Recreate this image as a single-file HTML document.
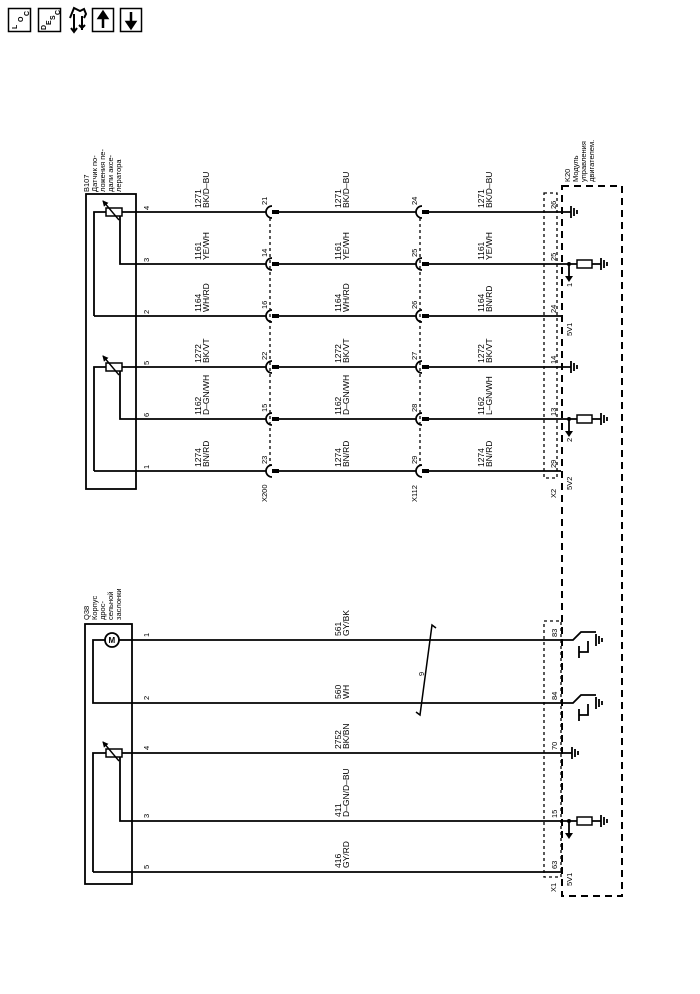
<!DOCTYPE html>
<html><head><meta charset="utf-8"><style>
html,body{margin:0;padding:0;background:#fff;}
svg{display:block;}
text{font-family:"Liberation Sans","DejaVu Sans",sans-serif;fill:#000;}
</style></head><body>
<svg width="700" height="994" viewBox="0 0 700 994" xmlns="http://www.w3.org/2000/svg">
<defs>
<marker id="ah" markerWidth="6" markerHeight="6" refX="5" refY="3" orient="auto" markerUnits="userSpaceOnUse"><path d="M0,0 L6,3 L0,6 z" fill="#000"/></marker>
</defs>
<!-- top icons -->
<g fill="none" stroke="#000" stroke-width="1.5">
<rect x="8.5" y="8.5" width="22" height="23"/>
<rect x="38.5" y="8.5" width="22" height="23"/>
<rect x="92.5" y="8.5" width="21" height="23"/>
<rect x="120.5" y="8.5" width="21" height="23"/>
</g>
<g font-size="7" font-weight="bold">
<text transform="translate(17,29) rotate(-90)">L</text>
<text transform="translate(23,22) rotate(-90)">O</text>
<text transform="translate(29,16) rotate(-90)">C</text>
<text transform="translate(46,30) rotate(-90)">D</text>
<text transform="translate(51,25) rotate(-90)">E</text>
<text transform="translate(55,20) rotate(-90)">S</text>
<text transform="translate(60,15) rotate(-90)">C</text>
</g>
<path d="M103,13 L103,28 M99,18 L103,12 L107,18 z" stroke="#000" stroke-width="2.5" fill="#000"/>
<path d="M131,27 L131,12 M127,22 L131,28 L135,22 z" stroke="#000" stroke-width="2.5" fill="#000"/>
<g stroke="#000" stroke-width="2" fill="none">
<path d="M70,18 L74,8 L80,11 L84,9 L86,14 L84,18"/>
<path d="M74,14 L74,31 M71,28 L74,32 L77,28"/>
<path d="M82,16 L82,30 M79,25 L82,28 L85,25"/>
</g>

<!-- ============ UPPER: B107 ============ -->
<g font-size="7.5">
<text transform="translate(89,192) rotate(-90)">B107</text>
<text transform="translate(97,192) rotate(-90)">Датчик по-</text>
<text transform="translate(105,192) rotate(-90)">ложения пе-</text>
<text transform="translate(113,192) rotate(-90)">дали аксе-</text>
<text transform="translate(121,192) rotate(-90)">лератора</text>
</g>
<rect x="86" y="194" width="50" height="295" fill="none" stroke="#000" stroke-width="1.8"/>

<g stroke="#000" stroke-width="1.8" fill="none">
<path d="M94,316 L94,212 L136,212"/>
<path d="M94,316 L136,316"/>
<path d="M120,216 L120,264 L136,264"/>
<path d="M94,471 L94,367 L136,367"/>
<path d="M94,471 L136,471"/>
<path d="M120,371 L120,419 L136,419"/>
</g>
<g stroke="#000" stroke-width="1.5" fill="#fff">
<rect x="106" y="208" width="16" height="8"/>
<rect x="106" y="363" width="16" height="8"/>
</g>
<g stroke="#000" stroke-width="1.4">
<line x1="119" y1="220" x2="103" y2="201" marker-end="url(#ah)"/>
<line x1="119" y1="375" x2="103" y2="356" marker-end="url(#ah)"/>
</g>

<!-- wires upper -->
<g stroke="#000" stroke-width="1.8" fill="none">
<path d="M136,212H266M278,212H416M428,212H571"/>
<path d="M136,264H266M278,264H416M428,264H577"/>
<path d="M136,316H266M278,316H416M428,316H561"/>
<path d="M136,367H266M278,367H416M428,367H571"/>
<path d="M136,419H266M278,419H416M428,419H577"/>
<path d="M136,471H266M278,471H416M428,471H561"/>
</g>
<g stroke="#000" stroke-width="1.7" fill="none">
<path d="M272,206 A6,6 0 0 0 272,218 M422,206 A6,6 0 0 0 422,218"/>
<path d="M272,258 A6,6 0 0 0 272,270 M422,258 A6,6 0 0 0 422,270"/>
<path d="M272,310 A6,6 0 0 0 272,322 M422,310 A6,6 0 0 0 422,322"/>
<path d="M272,361 A6,6 0 0 0 272,373 M422,361 A6,6 0 0 0 422,373"/>
<path d="M272,413 A6,6 0 0 0 272,425 M422,413 A6,6 0 0 0 422,425"/>
<path d="M272,465 A6,6 0 0 0 272,477 M422,465 A6,6 0 0 0 422,477"/>
</g>
<g fill="#000">
<rect x="272" y="210" width="7" height="4"/><rect x="422" y="210" width="7" height="4"/>
<rect x="272" y="262" width="7" height="4"/><rect x="422" y="262" width="7" height="4"/>
<rect x="272" y="314" width="7" height="4"/><rect x="422" y="314" width="7" height="4"/>
<rect x="272" y="365" width="7" height="4"/><rect x="422" y="365" width="7" height="4"/>
<rect x="272" y="417" width="7" height="4"/><rect x="422" y="417" width="7" height="4"/>
<rect x="272" y="469" width="7" height="4"/><rect x="422" y="469" width="7" height="4"/>
</g>
<g stroke="#000" stroke-width="1.3" stroke-dasharray="3,3">
<line x1="270" y1="218" x2="270" y2="465"/>
<line x1="420" y1="218" x2="420" y2="465"/>
</g>

<g font-size="7.5">
<text transform="translate(149,210) rotate(-90)">4</text>
<text transform="translate(149,262) rotate(-90)">3</text>
<text transform="translate(149,314) rotate(-90)">2</text>
<text transform="translate(149,365) rotate(-90)">5</text>
<text transform="translate(149,417) rotate(-90)">6</text>
<text transform="translate(149,469) rotate(-90)">1</text>
<text transform="translate(267,205) rotate(-90)">21</text>
<text transform="translate(267,257) rotate(-90)">14</text>
<text transform="translate(267,309) rotate(-90)">16</text>
<text transform="translate(267,360) rotate(-90)">22</text>
<text transform="translate(267,412) rotate(-90)">15</text>
<text transform="translate(267,464) rotate(-90)">23</text>
<text transform="translate(267,502) rotate(-90)">X200</text>
<text transform="translate(417,205) rotate(-90)">24</text>
<text transform="translate(417,257) rotate(-90)">25</text>
<text transform="translate(417,309) rotate(-90)">26</text>
<text transform="translate(417,360) rotate(-90)">27</text>
<text transform="translate(417,412) rotate(-90)">28</text>
<text transform="translate(417,464) rotate(-90)">29</text>
<text transform="translate(417,502) rotate(-90)">X112</text>
<text transform="translate(556,209) rotate(-90)">26</text>
<text transform="translate(556,261) rotate(-90)">25</text>
<text transform="translate(556,313) rotate(-90)">24</text>
<text transform="translate(556,364) rotate(-90)">14</text>
<text transform="translate(556,416) rotate(-90)">13</text>
<text transform="translate(556,468) rotate(-90)">29</text>
<text transform="translate(556,498) rotate(-90)">X2</text>
<text transform="translate(572,287) rotate(-90)">1</text>
<text transform="translate(572,336) rotate(-90)">5V1</text>
<text transform="translate(572,442) rotate(-90)">2</text>
<text transform="translate(572,490) rotate(-90)">5V2</text>
</g>

<g font-size="8.5">
<text transform="translate(201,208) rotate(-90)">1271</text><text transform="translate(209,208) rotate(-90)">BK/D–BU</text>
<text transform="translate(201,260) rotate(-90)">1161</text><text transform="translate(209,260) rotate(-90)">YE/WH</text>
<text transform="translate(201,312) rotate(-90)">1164</text><text transform="translate(209,312) rotate(-90)">WH/RD</text>
<text transform="translate(201,363) rotate(-90)">1272</text><text transform="translate(209,363) rotate(-90)">BK/VT</text>
<text transform="translate(201,415) rotate(-90)">1162</text><text transform="translate(209,415) rotate(-90)">D–GN/WH</text>
<text transform="translate(201,467) rotate(-90)">1274</text><text transform="translate(209,467) rotate(-90)">BN/RD</text>

<text transform="translate(341,208) rotate(-90)">1271</text><text transform="translate(349,208) rotate(-90)">BK/D–BU</text>
<text transform="translate(341,260) rotate(-90)">1161</text><text transform="translate(349,260) rotate(-90)">YE/WH</text>
<text transform="translate(341,312) rotate(-90)">1164</text><text transform="translate(349,312) rotate(-90)">WH/RD</text>
<text transform="translate(341,363) rotate(-90)">1272</text><text transform="translate(349,363) rotate(-90)">BK/VT</text>
<text transform="translate(341,415) rotate(-90)">1162</text><text transform="translate(349,415) rotate(-90)">D–GN/WH</text>
<text transform="translate(341,467) rotate(-90)">1274</text><text transform="translate(349,467) rotate(-90)">BN/RD</text>

<text transform="translate(484,208) rotate(-90)">1271</text><text transform="translate(492,208) rotate(-90)">BK/D–BU</text>
<text transform="translate(484,260) rotate(-90)">1161</text><text transform="translate(492,260) rotate(-90)">YE/WH</text>
<text transform="translate(484,312) rotate(-90)">1164</text><text transform="translate(492,312) rotate(-90)">BN/RD</text>
<text transform="translate(484,363) rotate(-90)">1272</text><text transform="translate(492,363) rotate(-90)">BK/VT</text>
<text transform="translate(484,415) rotate(-90)">1162</text><text transform="translate(492,415) rotate(-90)">L–GN/WH</text>
<text transform="translate(484,467) rotate(-90)">1274</text><text transform="translate(492,467) rotate(-90)">BN/RD</text>
</g>

<g font-size="7.5">
<text transform="translate(570,182) rotate(-90)">K20</text>
<text transform="translate(578,182) rotate(-90)">Модуль</text>
<text transform="translate(586,182) rotate(-90)">управления</text>
<text transform="translate(594,182) rotate(-90)">двигателем.</text>
</g>
<rect x="562" y="186" width="60" height="710" fill="none" stroke="#000" stroke-width="2" stroke-dasharray="7,5"/>
<rect x="544" y="193" width="13" height="285" fill="none" stroke="#000" stroke-width="1.3" stroke-dasharray="3,3"/>
<rect x="544" y="621" width="17" height="256" fill="none" stroke="#000" stroke-width="1.3" stroke-dasharray="3,3"/>

<g stroke="#000" stroke-width="1.8" fill="none">
<path d="M571,206V218M574,208V216M577,210V214"/>
<path d="M571,361V373M574,363V371M577,365V369"/>
<path d="M592,264H601M601,258V270M604,260V268M607,262V266"/>
<path d="M569,264V277"/>
<path d="M592,419H601M601,413V425M604,415V423M607,417V421"/>
<path d="M569,419V432"/>
<path d="M572,747V759M575,749V757M578,751V755"/>
<path d="M592,821H601M601,815V827M604,817V825M607,819V823"/>
<path d="M569,821V834"/>
</g>
<g stroke="#000" stroke-width="1.5" fill="#fff">
<rect x="577" y="260" width="15" height="8"/>
<rect x="577" y="415" width="15" height="8"/>
<rect x="577" y="817" width="15" height="8"/>
</g>
<g fill="#000">
<circle cx="569" cy="264" r="2"/><path d="M565,276L573,276L569,282z"/>
<circle cx="569" cy="419" r="2"/><path d="M565,431L573,431L569,437z"/>
<circle cx="569" cy="821" r="2"/><path d="M565,833L573,833L569,839z"/>
</g>

<!-- ============ LOWER: Q38 ============ -->
<g font-size="7.5">
<text transform="translate(89,620) rotate(-90)">Q38</text>
<text transform="translate(97,620) rotate(-90)">Корпус</text>
<text transform="translate(105,620) rotate(-90)">дрос-</text>
<text transform="translate(113,620) rotate(-90)">сельной</text>
<text transform="translate(121,620) rotate(-90)">заслонки</text>
</g>
<rect x="85" y="624" width="47" height="260" fill="none" stroke="#000" stroke-width="1.8"/>
<g stroke="#000" stroke-width="1.8" fill="none">
<path d="M105,640H93V703H132"/>
<path d="M119,640H132"/>
<circle cx="112" cy="640" r="7" fill="#fff"/>
<path d="M93,872V753H132"/>
<path d="M93,872H132"/>
<path d="M120,757V821H132"/>
<path d="M132,640H573L581,632H596"/>
<path d="M132,703H573L581,695H596"/>
<path d="M132,753H572"/>
<path d="M132,821H577"/>
<path d="M132,872H561"/>
<path d="M596,634V646M599,636V644M602,638V642"/>
<path d="M596,697V709M599,699V707M602,701V705"/>
<path d="M588,641V652H579M579,646V658"/>
<path d="M588,704V715H579M579,709V721"/>
</g>
<text x="108.5" y="643" font-size="8" font-weight="bold">M</text>
<rect x="106" y="749" width="16" height="8" fill="#fff" stroke="#000" stroke-width="1.5"/>
<line x1="119" y1="761" x2="103" y2="742" stroke="#000" stroke-width="1.4" marker-end="url(#ah)"/>
<path d="M436,628L432,625L420,715L416,712" stroke="#000" stroke-width="1.5" fill="none"/>
<text transform="translate(424,676) rotate(-90)" font-size="7.5">9</text>

<g font-size="7.5">
<text transform="translate(149,637) rotate(-90)">1</text>
<text transform="translate(149,700) rotate(-90)">2</text>
<text transform="translate(149,750) rotate(-90)">4</text>
<text transform="translate(149,818) rotate(-90)">3</text>
<text transform="translate(149,869) rotate(-90)">5</text>
<text transform="translate(557,637) rotate(-90)">83</text>
<text transform="translate(557,700) rotate(-90)">84</text>
<text transform="translate(557,750) rotate(-90)">70</text>
<text transform="translate(557,818) rotate(-90)">15</text>
<text transform="translate(557,869) rotate(-90)">63</text>
<text transform="translate(556,892) rotate(-90)">X1</text>
<text transform="translate(572,886) rotate(-90)">5V1</text>
</g>
<g font-size="8.5">
<text transform="translate(341,636) rotate(-90)">561</text><text transform="translate(349,636) rotate(-90)">GY/BK</text>
<text transform="translate(341,699) rotate(-90)">560</text><text transform="translate(349,699) rotate(-90)">WH</text>
<text transform="translate(341,749) rotate(-90)">2752</text><text transform="translate(349,749) rotate(-90)">BK/BN</text>
<text transform="translate(341,817) rotate(-90)">411</text><text transform="translate(349,817) rotate(-90)">D–GN/D–BU</text>
<text transform="translate(341,868) rotate(-90)">416</text><text transform="translate(349,868) rotate(-90)">GY/RD</text>
</g>
</svg>
</body></html>
